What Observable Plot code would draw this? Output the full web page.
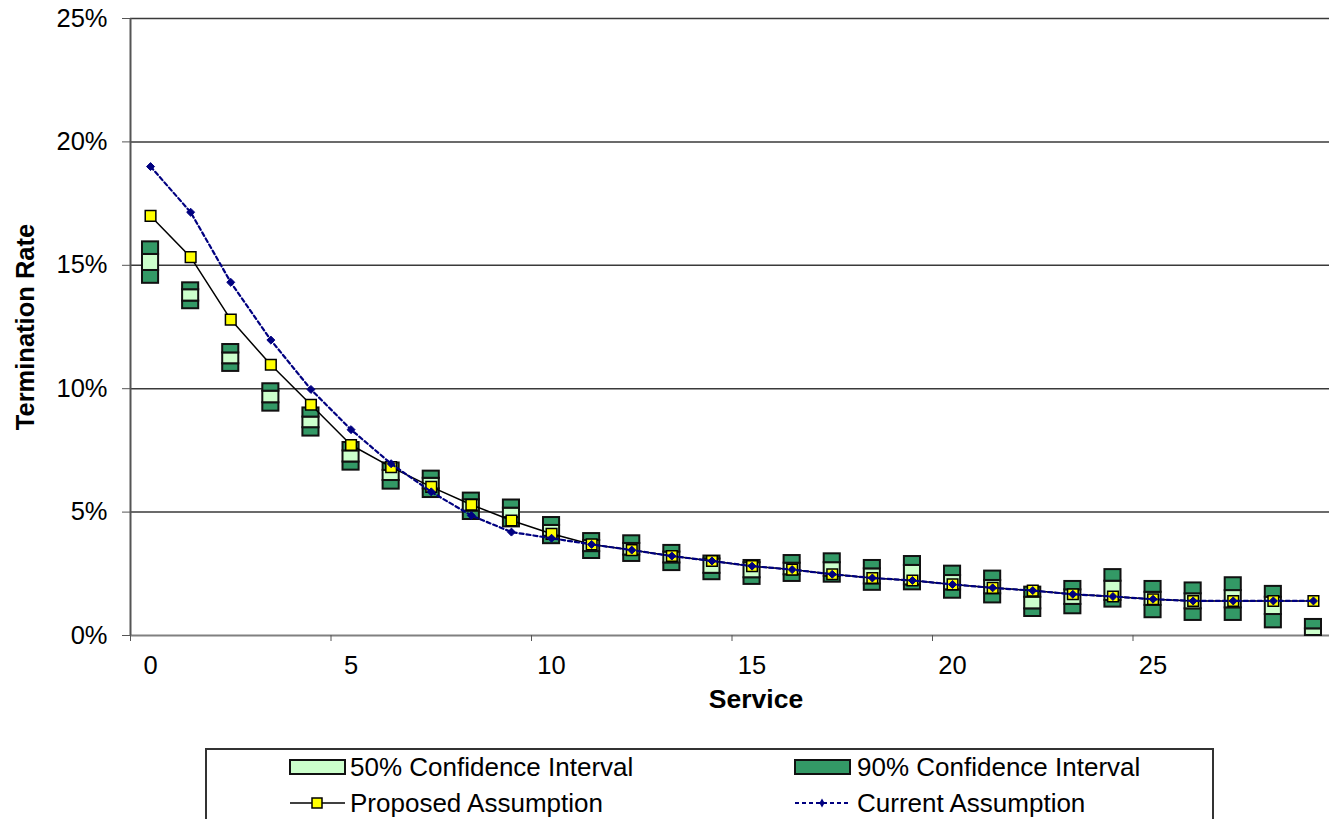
<!DOCTYPE html>
<html><head><meta charset="utf-8">
<script src="https://cdn.jsdelivr.net/npm/d3@7"></script>
<script src="https://cdn.jsdelivr.net/npm/@observablehq/plot@0.6"></script>
<style>
html,body{margin:0;padding:0;background:#fff;overflow:hidden;width:1329px;height:819px}
#wrap{position:relative;width:1329px;height:819px;overflow:hidden}
#chart svg{max-width:none !important}
#legend{position:absolute;left:205px;top:748px}
</style></head><body><div id="wrap"><div id="chart"></div><div id="legend"></div></div>
<script>
// Service (years) categories
const service = [0,1,2,3,4,5,6,7,8,9,10,11,12,13,14,15,16,17,18,19,20,21,22,23,24,25,26,27,28,29];
// Termination rates in percent
const proposed = [17.0,15.33,12.8,10.97,9.35,7.72,6.82,6.02,5.30,4.66,4.12,3.69,3.46,3.22,3.02,2.81,2.67,2.48,2.33,2.23,2.07,1.93,1.82,1.67,1.58,1.47,1.40,1.40,1.40,1.40];
const current  = [19.0,17.15,14.31,11.97,9.97,8.34,6.96,5.82,4.86,4.19,3.94,3.69,3.46,3.22,3.02,2.81,2.67,2.48,2.33,2.23,2.07,1.93,1.82,1.67,1.58,1.47,1.40,1.40,1.40,1.40];
const ci90Low  = [14.27,13.24,10.70,9.09,8.08,6.70,5.93,5.59,4.70,4.40,3.72,3.12,3.00,2.63,2.26,2.07,2.19,2.16,1.83,1.85,1.51,1.32,0.77,0.88,1.15,0.72,0.61,0.61,0.31,0.0];
const ci50Low  = [14.79,13.55,11.01,9.43,8.42,7.03,6.28,5.94,5.04,4.78,4.02,3.40,3.26,2.94,2.52,2.34,2.46,2.40,2.09,2.05,1.85,1.69,1.08,1.26,1.42,1.22,1.08,1.12,0.85,0.0];
const ci50High = [15.44,14.01,11.45,9.90,8.85,7.48,6.69,6.37,5.50,5.16,4.46,3.85,3.73,3.38,3.10,2.95,2.93,2.95,2.70,2.84,2.43,2.23,1.55,1.85,2.20,1.75,1.69,1.82,1.55,0.27];
const ci90High = [15.95,14.29,11.79,10.20,9.22,7.82,6.99,6.66,5.77,5.49,4.78,4.13,4.04,3.65,3.22,3.04,3.24,3.31,3.04,3.20,2.81,2.61,1.96,2.19,2.67,2.19,2.13,2.34,1.99,0.65];

const yTicks = [0,0.05,0.10,0.15,0.20,0.25];
const xTickLabels = [0,5,10,15,20,25];
const xBoundaries = [-0.5,4.5,9.5,14.5,19.5,24.5];
const legendLabels = ["50% Confidence Interval","90% Confidence Interval","Proposed Assumption","Current Assumption"];

const rows = service.map((s,i)=>({s, p: proposed[i]/100, c: current[i]/100,
  a: ci90Low[i]/100, b: ci50Low[i]/100, h: ci50High[i]/100, t: ci90High[i]/100}));

const dark = "#339966", light = "#ccffcc", yellow = "#ffff00", navy = "#000080";
const font = '"Liberation Sans", Arial, sans-serif';

const chart = Plot.plot({
  width: 1337, height: 740,
  marginLeft: 130, marginRight: 4, marginTop: 18, marginBottom: 105,
  x: {domain: [-0.5, 29.5]},
  y: {domain: [0, 0.25]},
  style: {fontFamily: font, fontSize: "25.5px", color: "#000", background: "#fff", overflow: "visible", maxWidth: "none"},
  marks: [
    Plot.ruleY(yTicks.slice(1), {stroke: "#3a3a3a", strokeWidth: 1.5}),
    Plot.ruleY([0], {stroke: "#808080", strokeWidth: 2}),
    Plot.axisY({ticks: yTicks, tickFormat: d3.format(".0%"), tickSize: 8, tickPadding: 15, label: null, stroke: "#555"}),
    Plot.axisX({ticks: xTickLabels, tickSize: 0, tickPadding: 20, label: null}),
    Plot.axisX({ticks: xBoundaries, tickSize: 6, tickFormat: () => "", label: null, stroke: "#555"}),
    Plot.ruleX([-0.5], {y1: 0, y2: 0.25, stroke: "#555", strokeWidth: 2}),
    Plot.rect(rows, {x1: d => d.s - 0.5, x2: d => d.s + 0.5, y1: "a", y2: "b", insetLeft: 12, insetRight: 12, fill: dark, stroke: "#111", strokeWidth: 2}),
    Plot.rect(rows, {x1: d => d.s - 0.5, x2: d => d.s + 0.5, y1: "b", y2: "h", insetLeft: 12, insetRight: 12, fill: light, stroke: "#111", strokeWidth: 2}),
    Plot.rect(rows, {x1: d => d.s - 0.5, x2: d => d.s + 0.5, y1: "h", y2: "t", insetLeft: 12, insetRight: 12, fill: dark, stroke: "#111", strokeWidth: 2}),
    Plot.line(rows, {x: "s", y: "p", stroke: "#000", strokeWidth: 1.5}),
    Plot.dot(rows, {x: "s", y: "p", symbol: "square", r: 6, fill: yellow, stroke: "#000", strokeWidth: 1.5}),
    Plot.line(rows, {x: "s", y: "c", stroke: navy, strokeWidth: 2.2, strokeDasharray: "4,3"}),
    Plot.dot(rows, {x: "s", y: "c", symbol: "diamond2", r: 3.6, fill: navy, stroke: navy, strokeWidth: 1}),
    Plot.text(["Termination Rate"], {text: d => d, frameAnchor: "left", textAnchor: "middle", lineAnchor: "middle", rotate: -90, dx: -105, fontWeight: "bold", fontSize: 25.5}),
    Plot.text(["Service"], {text: d => d, frameAnchor: "bottom", textAnchor: "middle", lineAnchor: "middle", dy: 64, dx: 24, fontWeight: "bold", fontSize: 26.5})
  ]
});
document.getElementById("chart").appendChild(chart);

// Legend
const lg = d3.select("#legend").append("svg").attr("width", 1010).attr("height", 90)
  .style("font-family", font).style("font-size", "26px");
lg.append("rect").attr("x", 1).attr("y", 1).attr("width", 1007).attr("height", 100)
  .attr("fill", "#fff").attr("stroke", "#333").attr("stroke-width", 2);
const cols = [85, 590], rowsY = [19, 55];
// 50% CI
lg.append("rect").attr("x", cols[0]).attr("y", rowsY[0]-7).attr("width", 55).attr("height", 14)
  .attr("fill", light).attr("stroke", "#111").attr("stroke-width", 2);
// 90% CI
lg.append("rect").attr("x", cols[1]).attr("y", rowsY[0]-7).attr("width", 55).attr("height", 14)
  .attr("fill", dark).attr("stroke", "#111").attr("stroke-width", 2);
// Proposed
lg.append("line").attr("x1", cols[0]).attr("x2", cols[0]+55).attr("y1", rowsY[1]).attr("y2", rowsY[1])
  .attr("stroke", "#000").attr("stroke-width", 1.5);
lg.append("rect").attr("x", cols[0]+22).attr("y", rowsY[1]-5).attr("width", 10).attr("height", 10)
  .attr("fill", yellow).attr("stroke", "#000").attr("stroke-width", 1.5);
// Current
lg.append("line").attr("x1", cols[1]).attr("x2", cols[1]+55).attr("y1", rowsY[1]).attr("y2", rowsY[1])
  .attr("stroke", navy).attr("stroke-width", 2).attr("stroke-dasharray", "4,3");
lg.append("path").attr("d", d3.symbol(d3.symbolDiamond, 24)()).attr("transform", `translate(${cols[1]+27},${rowsY[1]})`)
  .attr("fill", navy);
const pos = [[cols[0]+60, rowsY[0]], [cols[1]+62, rowsY[0]], [cols[0]+60, rowsY[1]], [cols[1]+62, rowsY[1]]];
legendLabels.forEach((t, i) => {
  lg.append("text").attr("x", pos[i][0]).attr("y", pos[i][1]).attr("dy", "0.35em").text(t);
});
</script>
</body></html>
